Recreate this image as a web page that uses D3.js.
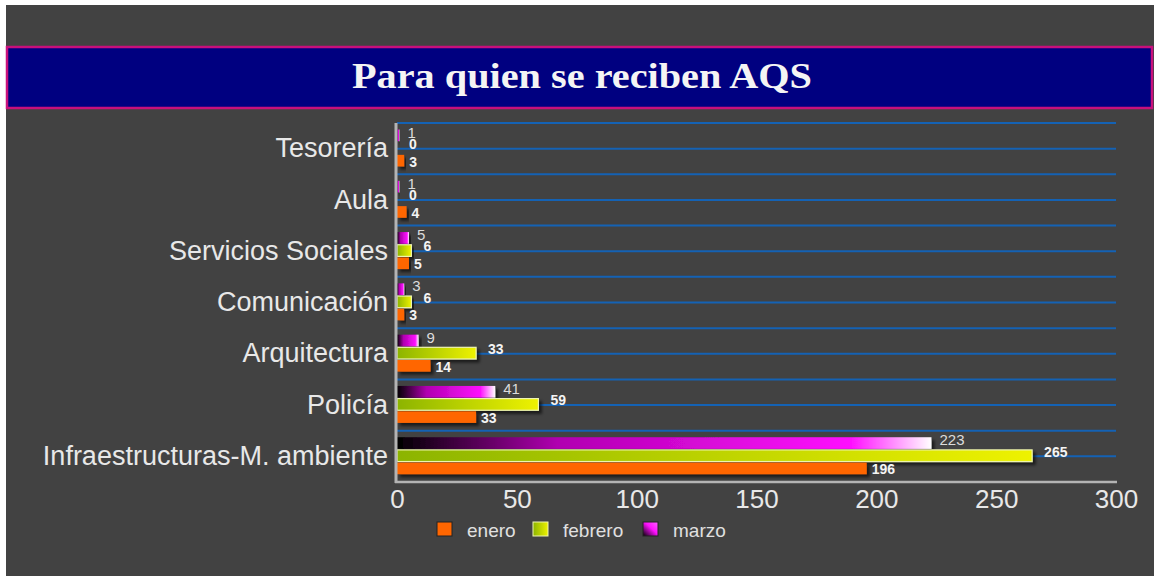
<!DOCTYPE html>
<html>
<head>
<meta charset="utf-8">
<script src="https://cdn.jsdelivr.net/npm/d3@7"></script>
<style>
  html, body { margin: 0; padding: 0; background: #ffffff; }
  svg { display: block; }
</style>
</head>
<body>
<div id="chart"></div>
<script>
const categories = ["Tesorería", "Aula", "Servicios Sociales", "Comunicación", "Arquitectura", "Policía", "Infraestructuras-M. ambiente"];
const series = ["marzo", "febrero", "enero"];
const enero = [3, 4, 5, 3, 14, 33, 196];
const febrero = [0, 0, 6, 6, 33, 59, 265];
const marzo = [1, 1, 5, 3, 9, 41, 223];
const xTicks = [0, 50, 100, 150, 200, 250, 300];
const legendItems = ["enero", "febrero", "marzo"];

const width = 1154, height = 576;

let svg = d3.select("#chart")
    .append("svg")
    .attr("width", width)
    .attr("height", height);

let defs = svg.append("defs");

let shadow = defs.append("filter")
    .attr("id", "shadow")
    .attr("x", "-5%").attr("y", "-30%")
    .attr("width", "120%").attr("height", "190%");
shadow.append("feDropShadow")
    .attr("dx", 3).attr("dy", 3)
    .attr("stdDeviation", 1.5)
    .attr("flood-color", "#000")
    .attr("flood-opacity", 0.6);

let gMarzo = defs.append("linearGradient").attr("id", "g-marzo");
gMarzo.append("stop").attr("offset", "0%").attr("stop-color", "#000000");
gMarzo.append("stop").attr("offset", "30%").attr("stop-color", "#b000b0");
gMarzo.append("stop").attr("offset", "85%").attr("stop-color", "#ff10ff");
gMarzo.append("stop").attr("offset", "100%").attr("stop-color", "#ffffff");

let gFeb = defs.append("linearGradient").attr("id", "g-febrero");
gFeb.append("stop").attr("offset", "0%").attr("stop-color", "#8cb400");
gFeb.append("stop").attr("offset", "100%").attr("stop-color", "#eef200");

let gLegM = defs.append("linearGradient").attr("id", "g-leg-marzo")
    .attr("x1", "0%").attr("y1", "100%").attr("x2", "100%").attr("y2", "0%");
gLegM.append("stop").attr("offset", "0%").attr("stop-color", "#000000");
gLegM.append("stop").attr("offset", "55%").attr("stop-color", "#ff10ff");
gLegM.append("stop").attr("offset", "100%").attr("stop-color", "#ff60ff");

// background
svg.append("rect")
    .attr("x", 0).attr("y", 0)
    .attr("width", width).attr("height", height)
    .attr("fill", "#ffffff");
svg.append("rect")
    .attr("x", 6).attr("y", 5)
    .attr("width", width - 6).attr("height", height - 5)
    .attr("fill", "#424242");

// title box
svg.append("rect")
    .attr("x", 7).attr("y", 47)
    .attr("width", 1145).attr("height", 61)
    .attr("fill", "#000080")
    .attr("stroke", "#c8107c")
    .attr("stroke-width", 2.5);
svg.append("text")
    .attr("x", 352).attr("y", 88)
    .attr("textLength", 460)
    .attr("lengthAdjust", "spacingAndGlyphs")
    .style("font-family", "'Liberation Serif', serif")
    .style("font-weight", "bold")
    .style("font-size", "36px")
    .attr("fill", "#f4f4f4")
    .text("Para quien se reciben AQS");

// scales
let x = d3.scaleLinear()
    .domain([0, 300])
    .range([397, 1116]);

let y = d3.scaleBand()
    .domain(categories)
    .range([123, 482])
    .padding(0);

let inner = d3.scaleBand()
    .domain(series)
    .range([5.5, 44.5])
    .padding(0.08);

// grid lines at band edges and centres
let gridYs = [];
categories.forEach(c => {
    gridYs.push(y(c));
    gridYs.push(y(c) + y.bandwidth() / 2);
});
svg.append("g")
    .selectAll("line")
    .data(gridYs)
    .enter()
    .append("line")
    .attr("x1", x(0)).attr("x2", x(300))
    .attr("y1", d => d).attr("y2", d => d)
    .attr("stroke", "#1462b4")
    .attr("stroke-width", 2);

// bars
let rows = categories.map((c, i) => ({
    cat: c,
    values: { enero: enero[i], febrero: febrero[i], marzo: marzo[i] }
}));

let fills = { enero: "#ff6600", febrero: "url(#g-febrero)", marzo: "url(#g-marzo)" };
let labelDx = { marzo: 8, febrero: 12, enero: 5 };
let labelDy = { marzo: -3, febrero: -4, enero: 1 };

let groups = svg.append("g")
    .selectAll("g")
    .data(rows)
    .enter()
    .append("g")
    .attr("transform", d => `translate(0, ${y(d.cat)})`);

series.forEach(s => {
    groups.filter(d => d.values[s] > 0)
        .append("rect")
        .attr("x", x(0))
        .attr("y", inner(s))
        .attr("width", d => x(d.values[s]) - x(0))
        .attr("height", inner.bandwidth())
        .attr("fill", fills[s])
        .attr("stroke", s == "febrero" ? "#eef4b0" : "none")
        .attr("stroke-width", s == "febrero" ? 1.2 : 0)
        .attr("filter", "url(#shadow)");

    groups.append("text")
        .attr("x", d => x(d.values[s]) + labelDx[s])
        .attr("y", inner(s) + inner.bandwidth() / 2 + labelDy[s])
        .attr("dy", "0.35em")
        .style("font-family", "'Liberation Sans', Arial, sans-serif")
        .style("font-size", s == "marzo" ? "15px" : "14px")
        .style("font-weight", s == "marzo" ? "normal" : "bold")
        .attr("fill", s == "marzo" ? "#dcdcdc" : "#f4f4f4")
        .text(d => d.values[s]);
});

// axes
svg.append("line")
    .attr("x1", x(0) - 1).attr("x2", x(0) - 1)
    .attr("y1", 123).attr("y2", 483)
    .attr("stroke", "#b4b4b4")
    .attr("stroke-width", 3);
svg.append("line")
    .attr("x1", x(0) - 2).attr("x2", x(300) + 1)
    .attr("y1", 482).attr("y2", 482)
    .attr("stroke", "#b4b4b4")
    .attr("stroke-width", 2.5);

let xAxis = svg.append("g")
    .attr("transform", "translate(0, 486)")
    .call(d3.axisBottom(x).tickValues(xTicks).tickSize(0).tickPadding(4));
xAxis.select(".domain").remove();
xAxis.selectAll("text")
    .style("font-family", "'Liberation Sans', Arial, sans-serif")
    .style("font-size", "26px")
    .attr("fill", "#e8e8e8");

let yAxis = svg.append("g")
    .attr("transform", `translate(${x(0) - 9}, 0)`)
    .call(d3.axisLeft(y).tickSize(0).tickPadding(0));
yAxis.select(".domain").remove();
yAxis.selectAll("text")
    .style("font-family", "'Liberation Sans', Arial, sans-serif")
    .style("font-size", "27px")
    .attr("fill", "#e8e8e8");

// legend
let legendX = [437, 533, 643];
let legendFill = { enero: "#ff6600", febrero: "url(#g-febrero)", marzo: "url(#g-leg-marzo)" };
let legend = svg.append("g")
    .selectAll("g")
    .data(legendItems)
    .enter()
    .append("g")
    .attr("transform", (d, i) => `translate(${legendX[i]}, 522)`);
legend.append("rect")
    .attr("width", 15).attr("height", 14)
    .attr("fill", d => legendFill[d])
    .attr("stroke", d => d == "febrero" ? "#eef4b0" : "#222")
    .attr("stroke-width", 1);
legend.append("text")
    .attr("x", 30).attr("y", 8)
    .attr("dy", "0.35em")
    .style("font-family", "'Liberation Sans', Arial, sans-serif")
    .style("font-size", "19px")
    .attr("fill", "#e0e0e0")
    .text(d => d);
</script>
</body>
</html>
